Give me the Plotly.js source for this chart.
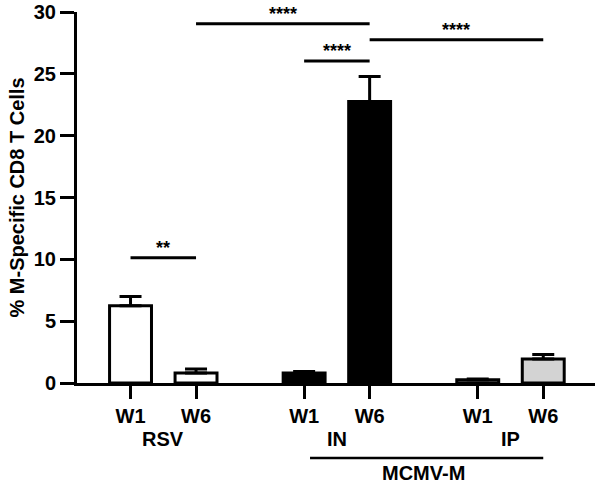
<!DOCTYPE html>
<html>
<head>
<meta charset="utf-8">
<script src="https://cdn.plot.ly/plotly-3.0.1.min.js"></script>
<style>html,body{margin:0;padding:0;background:#fff;}#chart{width:600px;height:486px;}</style>
</head>
<body>
<div id="chart"></div>
<script>
// ---- data ----
const categories = ['W1', 'W6', 'W1', 'W6', 'W1', 'W6'];
const groupOf = [0, 0, 1, 1, 2, 2];
const groups = ['RSV', 'IN', 'IP'];
const means = [6.25, 0.81, 0.81, 22.77, 0.27, 1.94];
const sem = [0.75, 0.32, 0.13, 2.02, 0.05, 0.37];
const fillColors = ['#ffffff', '#ffffff', '#000000', '#000000', '#d3d3d3', '#d3d3d3'];
// comparisons: [from index, to index, label, y-level]
const comparisons = [
  [0, 1, '**', 10.13],
  [1, 3, '****', 29.05],
  [3, 5, '****', 27.75],
  [2, 3, '****', 26.03]
];
const superGroup = {label: 'MCMV-M', from: 2, to: 5};
const yTicks = [0, 5, 10, 15, 20, 25, 30];

// ---- layout helpers ----
const groupStep = 2.65;
const xPos = categories.map((c, i) => groupOf[i] * groupStep + (i % 2));
const fontFam = 'Arial, "Liberation Sans", sans-serif';
const FS = 20;

const trace = {
  type: 'bar',
  x: xPos,
  y: means,
  width: 0.64,
  marker: {color: fillColors, line: {color: '#000', width: 3}},
  error_y: {type: 'data', symmetric: false, array: sem, arrayminus: sem.map(() => 0),
            color: '#000', thickness: 3, width: 11},
  hoverinfo: 'none',
  showlegend: false
};

const shapes = [];
const annotations = [];
comparisons.forEach(([a, b, lab, lvl]) => {
  shapes.push({type: 'line', xref: 'x', yref: 'y', x0: xPos[a], x1: xPos[b], y0: lvl, y1: lvl,
               line: {color: '#000', width: 3}});
  annotations.push({xref: 'x', yref: 'y', x: (xPos[a] + xPos[b]) / 2, y: lvl, text: lab,
                    showarrow: false, yanchor: 'bottom', yshift: -2,
                    font: {family: fontFam, size: 18, color: '#000', weight: 'bold'}});
});
groups.forEach((g, gi) => {
  const idx = groupOf.map((v, i) => v === gi ? i : -1).filter(i => i >= 0);
  const cx = (xPos[idx[0]] + xPos[idx[idx.length - 1]]) / 2;
  annotations.push({xref: 'x', yref: 'paper', x: cx, y: 0, text: g, showarrow: false,
                    yanchor: 'middle', yshift: -56,
                    font: {family: fontFam, size: FS, color: '#000', weight: 'bold'}});
});
const sgLine = {type: 'line', xref: 'x', yref: 'paper', x0: xPos[superGroup.from] + 0.09, x1: xPos[superGroup.to],
             y0: 0, y1: 0, ysizemode: 'pixel', yanchor: 0, line: {color: '#000', width: 2.5}};
sgLine.y0 = -75; sgLine.y1 = -75;
shapes.push(sgLine);
annotations.push({xref: 'x', yref: 'paper', x: (xPos[superGroup.from] + xPos[superGroup.to]) / 2, y: 0,
                  text: superGroup.label, showarrow: false, yanchor: 'middle', yshift: -90,
                  font: {family: fontFam, size: FS, color: '#000', weight: 'bold'}});

const layout = {
  width: 600, height: 486,
  margin: {l: 77, r: 5, t: 12, b: 103},
  paper_bgcolor: '#fff', plot_bgcolor: '#fff',
  font: {family: fontFam, color: '#000'},
  xaxis: {
    range: [-0.817, 7.09],
    tickmode: 'array', tickvals: xPos, ticktext: categories,
    ticks: 'outside', ticklen: 13, tickwidth: 3, tickcolor: '#000',
    showline: true, linecolor: '#000', linewidth: 3,
    showgrid: false, zeroline: false,
    tickfont: {family: fontFam, size: FS, color: '#000', weight: 'bold'}
  },
  yaxis: {
    range: [0, 30],
    tickmode: 'array', tickvals: yTicks,
    ticks: 'outside', ticklen: 14, tickwidth: 3, tickcolor: '#000',
    showline: true, linecolor: '#000', linewidth: 3,
    showgrid: false, zeroline: false,
    tickfont: {family: fontFam, size: FS, color: '#000', weight: 'bold'},
    title: {text: '% M-Specific CD8 T Cells', standoff: 4,
            font: {family: fontFam, size: FS, color: '#000', weight: 'bold'}}
  },
  shapes: shapes,
  annotations: annotations
};

Plotly.newPlot('chart', [trace], layout, {staticPlot: true});
</script>
</body>
</html>
